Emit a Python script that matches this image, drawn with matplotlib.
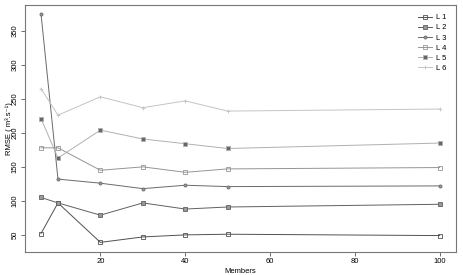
import matplotlib
matplotlib.use("Agg")
import matplotlib.pyplot as plt

members = [6, 10, 20, 30, 40, 50, 100]

l1 = [52, 97, 39, 47, 50, 51, 49]
l2 = [105, 97, 79, 97, 88, 91, 95]
l3 = [375, 132, 126, 118, 123, 121, 122]
l4 = [178, 178, 145, 150, 142, 147, 149]
l5 = [221, 163, 204, 191, 184, 177, 185]
l6 = [265, 226, 253, 237, 247, 232, 235]

series = [l1, l2, l3, l4, l5, l6]
names = ["L 1", "L 2", "L 3", "L 4", "L 5", "L 6"]
colors = ["#505050", "#606060", "#6a6a6a", "#959595", "#b0b0b0", "#c4c4c4"]
markers = ["s", "s", "o", "s", "s", "+"]
faces = ["none", "#999999", "#999999", "none", "#666666", "#aaaaaa"]

plt.rcParams["font.family"] = ["Liberation Sans", "DejaVu Sans"]

fig = plt.figure(figsize=(4.64, 2.75), dpi=100)
ax = fig.add_axes([0.054, 0.084, 0.928, 0.898])

for y, n, c, m, f in zip(series, names, colors, markers, faces):
    ax.plot(members, y, color=c, linewidth=0.7, marker=m, markersize=2.2,
            markerfacecolor=f, markeredgecolor=c, markeredgewidth=0.6, label=n)

ax.set_xlim(2.24, 103.76)
ax.set_ylim(25, 388)
ax.set_xticks([20, 40, 60, 80, 100])
ax.set_yticks([50, 100, 150, 200, 250, 300, 350])
ax.tick_params(labelsize=5.5, length=3, width=0.6, color="#555555", pad=1.5)
for lab in ax.get_yticklabels():
    lab.set_rotation(90)
    lab.set_va("center")
for s in ax.spines.values():
    s.set_color("#777777")
    s.set_linewidth(0.8)

ax.set_xlabel("Members", fontsize=5.5, labelpad=2)
ax.set_ylabel("RMSE ( m³.s⁻¹)", fontsize=5.5)
ax.yaxis.set_label_coords(-0.029, 0.5)

ax.legend(loc="upper right", frameon=False, fontsize=5.5, handlelength=1.8,
          labelspacing=0.35, borderaxespad=0.8, handletextpad=0.6)

fig.savefig("out.png", dpi=100)
